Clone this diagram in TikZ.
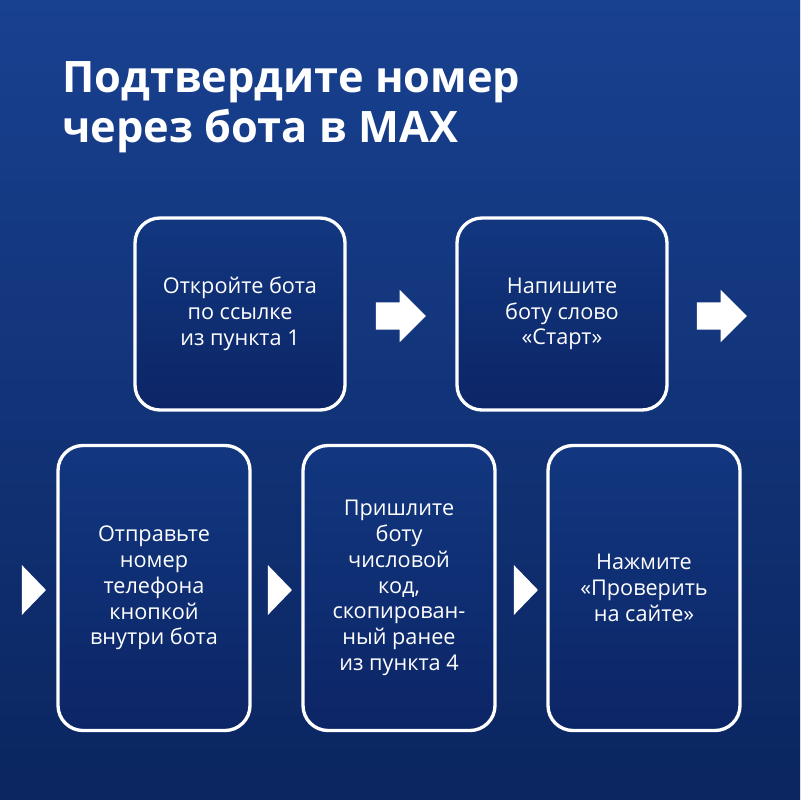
\documentclass[tikz,border=0pt]{standalone}
\usepackage{fontspec}
\setmainfont{Open Sans}
\usetikzlibrary{shapes.arrows,shapes.geometric}
\definecolor{bgdark}{HTML}{0B2660}
\definecolor{bglight}{HTML}{1F4DA6}
\definecolor{boxtop}{HTML}{123780}
\definecolor{boxbot}{HTML}{0C2566}
\begin{document}
\begin{tikzpicture}[
    x=0.3mm, y=-0.3mm,
    card/.style={rectangle, rounded corners=7.5mm, draw=white, line width=1mm,
      top color=boxtop, bottom color=boxbot, text=white, align=center,
      font=\fontsize{18.5}{22}\selectfont, inner sep=0pt},
    bigarrow/.style={single arrow, fill=white, minimum width=15.6mm, minimum height=15mm,
      single arrow head extend=3.75mm, single arrow tip angle=90,
      inner xsep=0pt, inner ysep=4mm},
    tri/.style={isosceles triangle, fill=white, isosceles triangle apex angle=92,
      minimum height=7.2mm, inner sep=0pt}
]
% Background
\useasboundingbox (0,0) rectangle (800,800);
\shade[left color=bglight, right color=bgdark, shading angle=0] (0,0) rectangle (800,800);
\shade[top color=bgdark, bottom color=bgdark, opacity=0.3] (0,0) rectangle (800,800);

% Title
\node[anchor=north west, text=white, align=left, font=\fontsize{37}{43}\selectfont\bfseries]
  (title) at (58,57) {Подтвердите номер\\через бота в MAX};

% Top row
\node[card, minimum width=63mm, minimum height=57.6mm] (open) at (240,314)
  {Откройте бота\\по ссылке\\ из пункта 1};
\node[card, minimum width=63mm, minimum height=57.6mm] (write) at (562,314)
  {Напишите\\боту слово\\«Старт»};

% Bottom row
\node[card, minimum width=57.6mm, minimum height=85.5mm] (send) at (154,588)
  {Отправьте\\номер\\телефона\\кнопкой\\внутри бота};
\node[card, minimum width=57.6mm, minimum height=85.5mm] (code) at (399,588)
  {Пришлите\\боту\\числовой\\код,\\скопирован-\\ный ранее\\из пункта 4};
\node[card, minimum width=57.6mm, minimum height=85.5mm] (check) at (644,588)
  {Нажмите\\«Проверить\\на сайте»};

% Arrows
\node[bigarrow] (a1) at (394,316) {};
\node[bigarrow] (a2) at (715,316) {};
\node[tri] (t1) at (32,590) {};
\node[tri] (t2) at (278,590) {};
\node[tri] (t3) at (524,590) {};
\end{tikzpicture}
\end{document}
